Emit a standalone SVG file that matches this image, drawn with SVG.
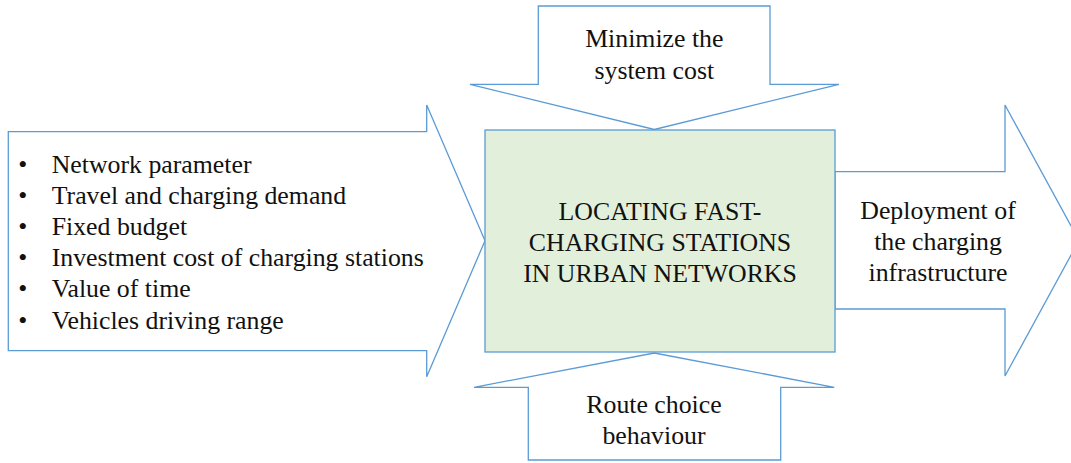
<svg xmlns="http://www.w3.org/2000/svg" width="1071" height="463" viewBox="0 0 1071 463">
<style>
.arrow{fill:#ffffff;stroke:#5B9BD5;stroke-width:1.3;stroke-linejoin:miter}
.box{fill:#E2EFDA;stroke:#5B9BD5;stroke-width:1.3}
.t{font-family:"Liberation Serif","Times New Roman",serif;font-size:25.8px;fill:#111111}
.c{text-anchor:middle}
</style>
<rect width="1071" height="463" fill="#ffffff"/>
<g id="input-arrow">
<polygon class="arrow" points="8.3,131.7 426.7,131.7 426.7,105 485,240.7 426.7,376.7 426.7,350.7 8.3,350.7"/>
<g class="t">
<text x="22.7" y="172.5" class="c">•</text><text x="51.7" y="172.5">Network parameter</text>
<text x="22.7" y="203.7" class="c">•</text><text x="51.7" y="203.7">Travel and charging demand</text>
<text x="22.7" y="234.9" class="c">•</text><text x="51.7" y="234.9">Fixed budget</text>
<text x="22.7" y="266.1" class="c">•</text><text x="51.7" y="266.1">Investment cost of charging stations</text>
<text x="22.7" y="297.3" class="c">•</text><text x="51.7" y="297.3">Value of time</text>
<text x="22.7" y="328.5" class="c">•</text><text x="51.7" y="328.5">Vehicles driving range</text>
</g>
</g>
<g id="objective-arrow">
<polygon class="arrow" points="538.3,6 770,6 770,84.3 839,84.3 654.3,129.5 470,84.3 538.3,84.3"/>
<text class="t c" x="654.3" y="47">Minimize the</text>
<text class="t c" x="654.3" y="78.5">system cost</text>
</g>
<g id="behaviour-arrow">
<polygon class="arrow" points="528.3,460 780.7,460 780.7,387.3 834.3,387.3 654.3,353 474,387.3 528.3,387.3"/>
<text class="t c" x="654" y="412.7">Route choice</text>
<text class="t c" x="654" y="443.5">behaviour</text>
</g>
<g id="output-arrow">
<polygon class="arrow" points="835,171.7 1005,171.7 1005,105 1079,240.5 1005,376 1005,309 835,309"/>
<text class="t c" x="938" y="218.5">Deployment of</text>
<text class="t c" x="938" y="249.5">the charging</text>
<text class="t c" x="938" y="281">infrastructure</text>
</g>
<g id="core-box">
<rect class="box" x="485" y="130" width="350" height="222"/>
<text class="t c" x="660" y="220">LOCATING FAST-</text>
<text class="t c" x="660" y="251">CHARGING STATIONS</text>
<text class="t c" x="660" y="282">IN URBAN NETWORKS</text>
</g>
<g id="connectors"></g>
</svg>
